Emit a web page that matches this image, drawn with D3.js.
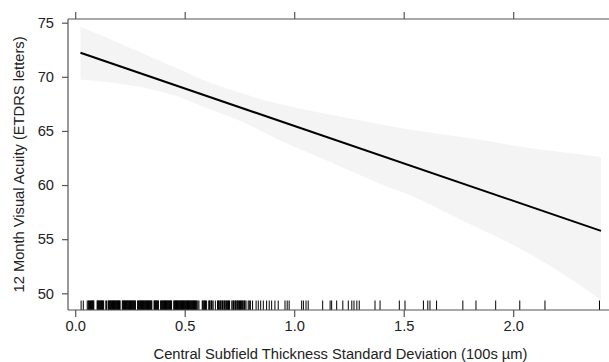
<!DOCTYPE html>
<html>
<head>
<meta charset="utf-8">
<script src="https://cdn.jsdelivr.net/npm/d3@7"></script>
<style>
  html, body { margin: 0; padding: 0; background: #fff; }
  svg { display: block; }
  text { font-family: "Liberation Sans", Arial, Helvetica, sans-serif; fill: #222; }
</style>
</head>
<body>
<svg id="chart" width="609" height="362"></svg>
<script>
// ---- data ----
const xTicks = [0, 0.5, 1.0, 1.5, 2.0];
const yTicks = [50, 55, 60, 65, 70, 75];

// fitted regression line (endpoints)
const fitX = [0.024, 2.401];
const fitY = [72.22, 55.77];

// confidence band
const bandX     = [0.024, 0.134, 0.291, 0.448, 0.605, 0.763, 0.920, 1.077, 1.234, 1.392, 1.549, 1.706, 1.863, 2.020, 2.178, 2.401];
const bandUpper = [74.63, 73.71, 72.32, 70.93, 69.54, 68.45, 67.55, 66.85, 66.24, 65.62, 65.06, 64.60, 64.14, 63.58, 63.15, 62.60];
const bandLower = [69.76, 69.54, 69.08, 68.31, 67.07, 65.84, 64.29, 62.90, 61.51, 60.13, 58.89, 57.35, 55.80, 54.26, 52.41, 49.39];

// rug of observed x values
const rugX = [
  0.027, 0.037, 0.055, 0.06, 0.065, 0.07, 0.075, 0.08, 0.085, 0.1, 0.105, 0.11, 0.115, 0.12, 0.125, 0.13,
  0.14, 0.15, 0.155, 0.16, 0.165, 0.17, 0.175, 0.18, 0.185, 0.19, 0.195, 0.2, 0.205, 0.215, 0.22,
  0.225, 0.23, 0.235, 0.24, 0.245, 0.25, 0.255, 0.26, 0.265, 0.27, 0.275, 0.285, 0.29, 0.295, 0.3,
  0.305, 0.31, 0.315, 0.32, 0.325, 0.33, 0.335, 0.34, 0.345, 0.35, 0.36, 0.365, 0.37, 0.375, 0.38,
  0.39, 0.395, 0.4, 0.405, 0.41, 0.415, 0.42, 0.425, 0.43, 0.435, 0.44, 0.45, 0.455, 0.46, 0.465,
  0.47, 0.475, 0.48, 0.485, 0.49, 0.495, 0.5, 0.505, 0.51, 0.515, 0.52, 0.525, 0.53, 0.535, 0.54,
  0.545, 0.55, 0.555, 0.56, 0.565, 0.58, 0.585, 0.59, 0.595, 0.6, 0.61, 0.615, 0.62, 0.625, 0.63,
  0.64, 0.65, 0.655, 0.66, 0.665, 0.67, 0.675, 0.68, 0.685, 0.69, 0.695, 0.7, 0.705, 0.715, 0.72,
  0.725, 0.73, 0.735, 0.74, 0.745, 0.75, 0.755, 0.76, 0.765, 0.77, 0.775, 0.78, 0.79, 0.795, 0.8,
  0.81, 0.826, 0.836, 0.847, 0.859, 0.874, 0.886, 0.897, 0.912, 0.927, 0.958, 0.968, 0.977,
  1.034, 1.042, 1.054, 1.064, 1.130, 1.164, 1.171, 1.194, 1.222, 1.247, 1.263, 1.273, 1.286, 1.297,
  1.369, 1.392, 1.480, 1.506, 1.59, 1.61, 1.62, 1.65, 1.77, 1.83, 1.92, 2.03, 2.145, 2.394,
  0.0625, 0.0725, 0.0775, 0.0825, 0.1025, 0.1075, 0.1125, 0.1175, 0.1225, 0.1275, 0.1425, 0.1525,
  0.1575, 0.1625, 0.1675, 0.1725, 0.1775, 0.1825, 0.1875, 0.1925, 0.1975, 0.2025, 0.2175, 0.2225,
  0.2275, 0.2325, 0.2375, 0.2425, 0.2475, 0.2525, 0.2575, 0.2625, 0.2675, 0.2725, 0.2875, 0.2925,
  0.2975, 0.3025, 0.3075, 0.3125, 0.3175, 0.3225, 0.3275, 0.3325, 0.3375, 0.3425, 0.3475, 0.3625,
  0.3675, 0.3725, 0.3775, 0.3925, 0.3975, 0.4025, 0.4075, 0.4125, 0.4175, 0.4225, 0.4275, 0.4325,
  0.4375, 0.4525, 0.4575, 0.4625, 0.4675, 0.4725, 0.4775, 0.4825, 0.4875, 0.4925, 0.4975, 0.5025,
  0.5075, 0.5125, 0.5175, 0.5225, 0.5275, 0.5325, 0.5375, 0.5425, 0.5475, 0.5525, 0.5825, 0.5925,
  0.6125, 0.6225, 0.6525, 0.6625, 0.6725, 0.6825, 0.6925, 0.7025, 0.7225, 0.7325, 0.7425, 0.7525,
  0.7625, 0.7725
];

const xTitle = "Central Subfield Thickness Standard Deviation (100s \u00b5m)";
const yTitle = "12 Month Visual Acuity (ETDRS letters)";

// ---- layout ----
const svg = d3.select("#chart");
const padL = 68, padT = 19, padB = 310, padR = 625;
const fontSize = 14.7;

const x = d3.scaleLinear().domain([0, 2]).range([75.2, 513.2]);
const y = d3.scaleLinear().domain([50, 75]).range([293.3, 22.7]);

const axisColor = "#555";

// band
const band = bandX.map((v, i) => ({x: v, lo: bandLower[i], hi: bandUpper[i]}));
svg.append("path")
  .datum(band)
  .attr("fill", "#f4f4f4")
  .attr("d", d3.area()
    .x(d => x(d.x))
    .y0(d => y(d.lo))
    .y1(d => y(d.hi))
    .curve(d3.curveMonotoneX));

// fit line
svg.append("path")
  .datum(fitX.map((v, i) => ({x: v, y: fitY[i]})))
  .attr("fill", "none")
  .attr("stroke", "#000")
  .attr("stroke-width", 2)
  .attr("d", d3.line().x(d => x(d.x)).y(d => y(d.y)));

// rug
svg.append("g")
  .selectAll("line")
  .data(rugX)
  .join("line")
  .attr("x1", d => x(d)).attr("x2", d => x(d))
  .attr("y1", padB - 9.5).attr("y2", padB)
  .attr("stroke", "#000")
  .attr("stroke-width", 1);

// axes (bottom, top, left)
const gB = svg.append("g").attr("transform", `translate(0,${padB})`)
  .call(d3.axisBottom(x).tickValues(xTicks).tickFormat(d3.format(".1f")).tickSize(7).tickPadding(4));
const gT = svg.append("g").attr("transform", `translate(0,${padT})`)
  .call(d3.axisTop(x).tickValues(xTicks).tickFormat("").tickSize(7));
const gL = svg.append("g").attr("transform", `translate(${padL},0)`)
  .call(d3.axisLeft(y).tickValues(yTicks).tickFormat(d3.format("d")).tickSize(6).tickPadding(8));

[gB, gT, gL].forEach(g => {
  g.select(".domain").remove();
  g.selectAll(".tick line").attr("stroke", axisColor).attr("stroke-width", 1.2);
  g.selectAll(".tick text").attr("font-size", fontSize).attr("fill", "#222")
    .attr("font-family", '"Liberation Sans", Arial, sans-serif');
});

// frame lines
svg.append("line").attr("x1", padL).attr("x2", padR).attr("y1", padT).attr("y2", padT)
  .attr("stroke", axisColor).attr("stroke-width", 1.2);
svg.append("line").attr("x1", padL).attr("x2", padR).attr("y1", padB).attr("y2", padB)
  .attr("stroke", axisColor).attr("stroke-width", 1.2);
svg.append("line").attr("x1", padL).attr("x2", padL).attr("y1", padT).attr("y2", padB)
  .attr("stroke", axisColor).attr("stroke-width", 1.2);

// titles
svg.append("text")
  .attr("x", 340.5).attr("y", 358.5)
  .attr("text-anchor", "middle")
  .attr("font-size", fontSize)
  .text(xTitle);

svg.append("text")
  .attr("transform", `translate(24,164.5) rotate(-90)`)
  .attr("text-anchor", "middle")
  .attr("font-size", fontSize)
  .text(yTitle);
</script>
</body>
</html>
